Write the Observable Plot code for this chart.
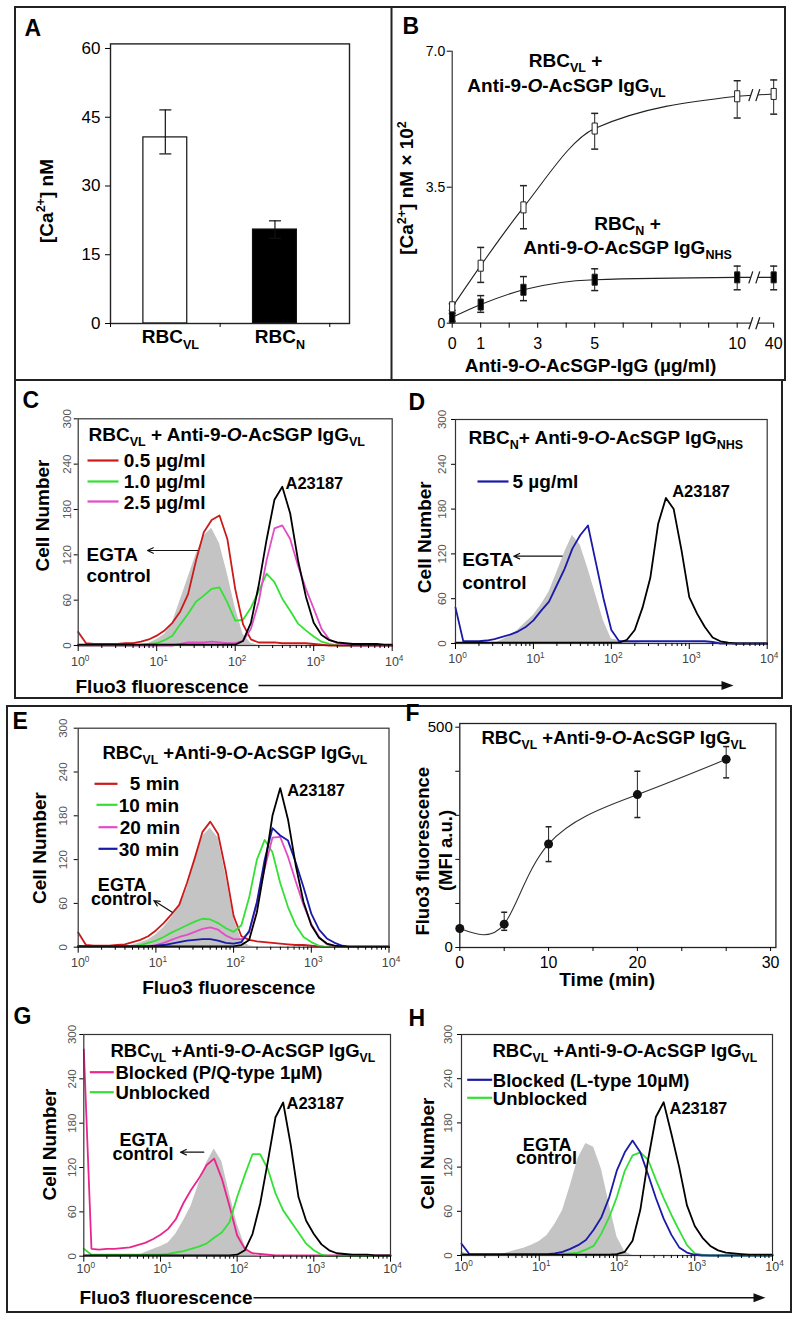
<!DOCTYPE html>
<html><head><meta charset="utf-8">
<script src="https://cdn.jsdelivr.net/npm/d3@7"></script>
<script src="https://cdn.jsdelivr.net/npm/@observablehq/plot@0.6"></script>
<style>
html,body{margin:0;padding:0;background:#fff;}
#fig{position:relative;width:799px;height:1320px;overflow:hidden;background:#fff;}
#fig svg{position:absolute;}
</style></head><body><div id="fig"></div>
<script>
// ---------------- DATA ----------------
// Panel A
const aGroups = ["RBC_{VL}", "RBC_{N}"];
const aMean = [40.6, 20.5];
const aLow = [37.0, 18.6];
const aHigh = [46.6, 22.4];
const aTicks = [0, 15, 30, 45, 60];

// Panel B
const bDose = [0, 1, 2.5, 5, 10, 40];
const bVL = [0.41, 1.48, 2.98, 5.01, 5.84, 5.90];
const bVLlo = [0.33, 1.05, 2.43, 4.48, 5.28, 5.38];
const bVLhi = [0.50, 1.95, 3.54, 5.40, 6.24, 6.26];
const bNHS = [0.15, 0.48, 0.86, 1.12, 1.18, 1.18];
const bNHSlo = [0.05, 0.28, 0.58, 0.84, 0.86, 0.86];
const bNHShi = [0.25, 0.71, 1.20, 1.40, 1.47, 1.47];
const bTickMarks = [0, 1, 2, 3, 4, 5, 6, 7, 8, 9, 10, 40];
const bTickLabels = [0, 1, 3, 5, 10, 40];
const bYTicks = [0, 3.5, 7];

// Panel F
const fTime = [0, 5, 10, 20, 30];
const fMFI = [43, 53, 235, 347, 427];
const fLow = [43, 39, 195, 295, 385];
const fHigh = [43, 80, 274, 400, 456];
const fYTicks = [0, 100, 200, 300, 400, 500];
const fXTickMarks = [0, 5, 10, 15, 20, 25, 30, 35];
const fTickPos = [0, 10, 20, 35];
const fTickText = ["0", "10", "20", "30"];

// Histograms: log10(Fluo3) bins
const logFluo = [0,0.1,0.2,0.3,0.4,0.5,0.6,0.7,0.8,0.9,1,1.1,1.2,1.3,1.4,1.5,1.6,1.7,1.8,1.9,2,2.1,2.2,2.3,2.4,2.5,2.6,2.7,2.8,2.9,3,3.1,3.2,3.3,3.4,3.5,3.6,3.7,3.8,3.9,4];
const cellTicks = [0, 60, 120, 180, 240, 300];

const cEgta  = [0,0,0,0,0,0,0,0,0,3,8,15,30,60,90,120,145,155,135,95,50,15,3,0,0,0,0,0,0,0,0,0,0,0,0,0,0,0,0,0,0];
const cRed   = [18,3,2,2,2,2,3,3,5,8,13,20,30,45,68,112,150,166,172,141,75,28,8,4,4,4,3,3,3,3,2,1,0,0,0,0,0,0,0,0,0];
const cGreen = [0,0,0,0,0,0,0,0,1,2,3,7,13,28,42,58,66,75,77,57,33,34,50,72,95,84,62,46,29,20,12,5,2,0,0,0,0,0,0,0,0];
const cMag   = [0,0,0,0,0,0,0,0,0,0,0,0,0,2,4,4,4,5,4,3,3,6,22,58,113,155,159,141,106,75,49,22,8,3,1,0,0,0,0,0,0];
const cBlack = [1,1,1,1,1,1,1,1,1,1,1,1,1,1,1,1,1,1,1,1,1,6,30,80,140,193,210,175,113,65,30,14,7,4,3,2,2,2,2,1,1];

const dEgta  = [0,0,0,0,0,0,5,10,18,28,38,52,69,95,122,145,132,100,65,30,6,4,4,2,0,0,0,0,0,0,0,0,0,0,0,0,0,0,0,0,0];
const dBlue  = [48,3,3,3,4,6,9,12,16,22,31,44,56,78,100,127,145,158,109,60,18,3,3,3,3,3,3,3,3,3,3,3,3,2,0,0,0,0,0,0,0];
const dBlack = [1,1,1,1,1,1,1,1,1,1,1,1,1,1,1,1,1,1,1,1,1,1,5,18,48,88,160,195,180,125,62,40,22,8,3,1,0,0,0,0,0];

const eEgta  = [0,0,0,0,0,0,0,3,6,10,17,27,40,55,80,118,152,163,150,98,40,10,2,0,0,0,0,0,0,0,0,0,0,0,0,0,0,0,0,0,0];
const eRed   = [20,3,2,2,2,3,4,7,10,15,23,33,45,58,88,122,158,172,155,104,43,15,10,8,7,6,5,4,3,3,2,1,0,0,0,0,0,0,0,0,0];
const eGreen = [2,1,1,1,1,1,1,1,3,6,9,14,20,25,30,35,39,38,33,26,21,30,68,120,147,130,88,55,30,14,7,2,0,0,0,0,0,0,0,0,0];
const eMag   = [1,1,1,1,1,1,1,1,1,1,3,6,10,14,17,21,25,27,24,16,11,11,20,60,108,150,151,124,90,58,32,14,4,1,0,0,0,0,0,0,0];
const eBlue  = [1,1,1,1,1,1,1,1,1,1,2,3,5,7,9,10,11,11,9,6,5,7,22,62,120,163,153,146,116,82,46,24,12,6,2,0,0,0,0,0,0];
const eBlack = [1,1,1,1,1,1,1,1,1,1,1,1,1,1,1,1,1,1,1,1,1,3,10,48,110,180,218,175,112,62,30,13,5,2,1,1,1,1,1,1,1];

const gEgta  = [0,0,0,0,0,0,0,0,5,9,13,18,30,48,68,98,126,145,128,85,44,14,2,0,0,0,0,0,0,0,0,0,0,0,0,0,0,0,0,0,0];
const gMag   = [280,10,9,10,10,11,12,15,18,23,29,37,50,72,90,105,123,132,105,68,28,10,4,3,2,1,1,1,1,1,1,1,1,1,1,1,1,1,1,1,1];
const gGreen = [10,2,2,2,2,2,2,2,2,2,2,3,5,7,10,13,17,25,32,46,80,110,138,138,118,85,62,47,32,17,8,2,0,0,0,0,0,0,0,0,0];
const gBlack = [1,1,1,1,1,1,1,1,1,1,1,1,1,1,1,1,1,1,1,1,2,8,30,71,128,188,208,150,80,48,30,16,8,4,3,2,2,2,1,1,1];

const hEgta  = [5,1,1,1,1,1,4,7,10,14,19,27,42,61,95,132,152,147,117,70,25,5,0,0,0,0,0,0,0,0,0,0,0,0,0,0,0,0,0,0,0];
const hBlue  = [16,2,2,2,2,2,2,2,2,2,2,2,3,5,9,14,21,35,52,79,116,140,156,140,110,78,50,28,11,4,1,0,0,0,0,0,0,0,0,0,0];
const hGreen = [3,1,1,1,1,1,1,1,1,1,1,1,1,2,3,4,8,13,30,52,80,115,136,140,130,103,78,55,34,14,3,1,0,0,0,0,0,0,0,0,0];
const hBlack = [1,1,1,1,1,1,1,1,1,1,1,1,1,1,1,1,1,1,1,1,2,5,20,62,130,188,208,165,120,68,40,24,13,7,4,3,2,1,1,1,1];

// ---------------- STYLE ----------------
const FONT = "'Liberation Sans', Arial, Helvetica, sans-serif";
const GREY = "#c4c4c4", RED = "#cc1a1a", GREEN = "#35e035", MAG = "#e24cc6", PINK = "#e8268e", BLUE = "#1a1aa8", BLACK = "#000";
const base = {style: {fontFamily: FONT, background: "transparent", overflow: "visible", color: "#000"}};
const fig = document.getElementById("fig");

function richify(svg) {
  const NS = "http://www.w3.org/2000/svg";
  const pat = /([_^*])\{([^}]*)\}/;
  for (const el of Array.from(svg.querySelectorAll("text, tspan"))) {
    if (el.childNodes.length !== 1 || el.firstChild.nodeType !== 3) continue;
    const s = el.textContent;
    if (!pat.test(s)) continue;
    const fs = parseFloat(getComputedStyle(el).fontSize) || 12;
    el.textContent = "";
    let shift = 0;
    for (const part of s.split(/([_^*]\{[^}]*\})/)) {
      if (!part) continue;
      const m = part.match(/^([_^*])\{([^}]*)\}$/);
      const t = document.createElementNS(NS, "tspan");
      let target = 0;
      if (m) {
        t.textContent = m[2];
        if (m[1] === "_") { target = 0.28 * fs; t.setAttribute("font-size", 0.66 * fs); }
        else if (m[1] === "^") { target = -0.4 * fs; t.setAttribute("font-size", 0.66 * fs); }
        else t.setAttribute("font-style", "italic");
      } else t.textContent = part;
      if (target !== shift) { t.setAttribute("dy", target - shift); shift = target; }
      el.appendChild(t);
    }
  }
}
function place(svg, left, top) {
  svg.style.left = left + "px"; svg.style.top = top + "px";
  fig.appendChild(svg); richify(svg);
}
const capSymbol = w => ({draw(ctx) { ctx.moveTo(-w / 2, 0); ctx.lineTo(w / 2, 0); }});
const barSymbol = {draw(ctx) { ctx.rect(-2.6, -5.5, 5.2, 11); }};
const headSymbol = {draw(ctx) { ctx.moveTo(0, 0); ctx.lineTo(-12, -4.5); ctx.lineTo(-12, 4.5); ctx.closePath(); }};
const gapSymbol = {draw(ctx) { ctx.moveTo(-5.5, 6); ctx.lineTo(-1.5, -6); ctx.lineTo(5.5, -6); ctx.lineTo(1.5, 6); ctx.closePath(); }};
const slashSymbol = {draw(ctx) { ctx.moveTo(-5.5, 6); ctx.lineTo(-1.5, -6); ctx.moveTo(1.5, 6); ctx.lineTo(5.5, -6); }};

// ---------------- PANEL A ----------------
const A_FILLS = ["#ffffff", "#000000"];
const aRows = aGroups.map((g, i) => ({g, k: i + 1, mean: aMean[i], lo: aLow[i], hi: aHigh[i]}));
place(Plot.plot({...base, width: 376, height: 373, marginLeft: 95, marginRight: 42, marginTop: 36.4, marginBottom: 57,
  x: {domain: [0.5, 2.68]}, y: {domain: [0, 61]}, color: {type: "identity"},
  marks: [
    Plot.rect(aRows, {x1: d => d.k - 0.2, x2: d => d.k + 0.2, y1: () => 0, y2: "mean", fill: (d, i) => A_FILLS[i], stroke: "#111", strokeWidth: 1.2}),
    Plot.ruleX(aRows, {x: "k", y1: "lo", y2: "hi", stroke: "#111", strokeWidth: 1.2}),
    Plot.dot(aRows, {x: "k", y: "hi", symbol: capSymbol(12), stroke: "#111", fill: "none", strokeWidth: 1.2}),
    Plot.dot(aRows, {x: "k", y: "lo", symbol: capSymbol(12), stroke: "#111", fill: "none", strokeWidth: 1.2}),
    Plot.frame({stroke: "#222", strokeWidth: 1.4}),
    Plot.axisY({ticks: aTicks, tickSize: 5, tickPadding: 5, fontSize: 17, label: null}),
    Plot.axisX({ticks: [0.5, 1.5, 2.5], tickSize: 4, tickFormat: () => "", label: null}),
    Plot.text(aRows, {x: "k", y: () => 0, text: "g", dy: 19.7, dx: 5, lineAnchor: "bottom", fontSize: 19, fontWeight: "bold"})
  ]}), 15, 7);

// ---------------- PANEL B ----------------
const bPos = v => v <= 10 ? v : 10 + (v - 10) * 1.28 / 30;
const bBreakPos = 10.6;
const bRowsVL = bDose.map((d, i) => ({dose: d, v: bVL[i], lo: bVLlo[i], hi: bVLhi[i]}));
const bRowsN = bDose.map((d, i) => ({dose: d, v: bNHS[i], lo: bNHSlo[i], hi: bNHShi[i]}));
const bx = d => bPos(d.dose);
const bSeries = [[bRowsVL, "#fff"], [bRowsN, "#000"]];
const bBreakY = [(bVL[4] + bVL[5]) / 2, (bNHS[4] + bNHS[5]) / 2, 0];
place(Plot.plot({...base, width: 394, height: 373, marginLeft: 60.7, marginRight: 8.4, marginTop: 43.7, marginBottom: 57.3,
  x: {domain: [0, 11.4]}, y: {domain: [0, 7]},
  marks: [
    Plot.ruleX([0], {y1: () => 0, y2: () => 7, stroke: "#333", strokeWidth: 1.2}),
    Plot.ruleY([0], {x1: () => 0, x2: () => bPos(40), stroke: "#333", strokeWidth: 1.2}),
    Plot.axisX({ticks: bTickMarks.map(bPos), tickSize: 5, tickFormat: () => "", label: null}),
    Plot.text(bTickLabels, {x: d => bPos(d), y: () => 0, text: d => String(d), dy: 25.6, lineAnchor: "bottom", fontSize: 16}),
    Plot.axisY({ticks: bYTicks, tickFormat: d => d === 0 ? "0" : d.toFixed(1), tickSize: 5, tickPadding: 2, fontSize: 14, label: null}),
    ...bSeries.flatMap(([rows, fill]) => [
      Plot.line(rows.filter(d => d.dose <= 10), {x: bx, y: "v", curve: "monotone-x", stroke: "#222", strokeWidth: 1.1}),
      Plot.line(rows.filter(d => d.dose >= 10), {x: bx, y: "v", stroke: "#222", strokeWidth: 1.1}),
      Plot.ruleX(rows, {x: bx, y1: "lo", y2: "hi", stroke: "#222", strokeWidth: 1}),
      Plot.dot(rows, {x: bx, y: "hi", symbol: capSymbol(7), stroke: "#222", fill: "none"}),
      Plot.dot(rows, {x: bx, y: "lo", symbol: capSymbol(7), stroke: "#222", fill: "none"}),
      Plot.dot(rows, {x: bx, y: "v", symbol: barSymbol, fill, stroke: "#222", strokeWidth: 1})
    ]),
    Plot.dot(bBreakY, {x: () => bBreakPos, y: d => d, symbol: gapSymbol, fill: "#fff", stroke: "none"}),
    Plot.dot(bBreakY, {x: () => bBreakPos, y: d => d, symbol: slashSymbol, fill: "none", stroke: "#222", strokeWidth: 1.3})
  ]}), 391, 7);

// ---------------- HISTOGRAMS ----------------
const majorTicks = [1, 10, 100, 1000, 10000];
const minorTicks = [1, 10, 100, 1000].flatMap(p => [2, 3, 4, 5, 6, 7, 8, 9].map(m => m * p));
const rowsOf = values => logFluo.map((L, i) => ({f: Math.pow(10, L), n: values[i]}));
function histogram(g) {
  return Plot.plot({...base, width: g.w, height: g.h, marginLeft: g.ml, marginRight: g.mr, marginTop: g.mt, marginBottom: g.mb,
    x: {type: "log", domain: [1, 10000]}, y: {domain: [0, 300]},
    marks: [
      Plot.areaY(rowsOf(g.egta), {x: "f", y: "n", fill: GREY}),
      ...g.lines.map(([vals, color]) => Plot.line(rowsOf(vals), {x: "f", y: "n", stroke: color, strokeWidth: 1.8})),
      Plot.frame({stroke: "#333", strokeWidth: 1.2}),
      Plot.axisY({ticks: cellTicks, tickSize: 4, tickFormat: () => "", label: null}),
      Plot.text(cellTicks, {x: () => 1, y: d => d, text: d => String(d), rotate: -90, dx: -g.ydx, fontSize: 11.5, fill: "#555"}),
      Plot.axisX({ticks: majorTicks, tickSize: 6, tickFormat: () => "", label: null}),
      Plot.axisX({ticks: minorTicks, tickSize: 3, tickFormat: () => "", label: null}),
      Plot.text(majorTicks, {x: d => d, y: () => 0, text: d => `10^{${Math.round(Math.log10(d))}}`, dy: g.xdy, dx: 2, fontSize: 12.5, fill: "#444"})
    ]});
}
place(histogram({w: 380, h: 318, ml: 62.7, mr: 3.3, mt: 38.3, mb: 53, ydx: 11, xdy: 16.7, egta: cEgta,
  lines: [[cGreen, GREEN], [cRed, RED], [cMag, MAG], [cBlack, BLACK]]}), 15, 380);
place(histogram({w: 387, h: 318, ml: 60, mr: 15.3, mt: 39, mb: 55, ydx: 13.3, xdy: 15.3, egta: dEgta,
  lines: [[dBlue, BLUE], [dBlack, BLACK]]}), 395, 380);
place(histogram({w: 388, h: 304, ml: 70.7, mr: 6.5, mt: 21.7, mb: 63.3, ydx: 14.4, xdy: 15.6, egta: eEgta,
  lines: [[eRed, RED], [eGreen, GREEN], [eMag, MAG], [eBlue, BLUE], [eBlack, BLACK]]}), 7, 706);
place(histogram({w: 388, h: 302, ml: 76.3, mr: 5, mt: 24, mb: 56.3, ydx: 11.7, xdy: 12.5, egta: gEgta,
  lines: [[gMag, PINK], [gGreen, GREEN], [gBlack, BLACK]]}), 7, 1010);
place(histogram({w: 395, h: 302, ml: 66, mr: 18, mt: 24, mb: 57, ydx: 12.7, xdy: 11.7, egta: hEgta,
  lines: [[hGreen, GREEN], [hBlue, BLUE], [hBlack, BLACK]]}), 395, 1010);

// ---------------- PANEL F ----------------
const fRows = fTime.map((t, i) => ({t, v: fMFI[i], lo: fLow[i], hi: fHigh[i]}));
place(Plot.plot({...base, width: 395, height: 304, marginLeft: 64.3, marginRight: 14.6, marginTop: 17, marginBottom: 63,
  x: {domain: [0, 35.6]}, y: {domain: [0, 508.4]},
  marks: [
    Plot.frame({stroke: "#222", strokeWidth: 1.3}),
    Plot.axisY({ticks: fYTicks, tickSize: 4, tickPadding: 3, tickFormat: d => (d === 0 || d === 500) ? String(d) : "", fontSize: 15, label: null}),
    Plot.axisX({ticks: fXTickMarks, tickSize: 4, tickFormat: () => "", label: null}),
    Plot.text(fTickPos, {x: d => d, y: () => 0, text: (d, i) => fTickText[i], dy: 20, lineAnchor: "bottom", fontSize: 16}),
    Plot.line(fRows, {x: "t", y: "v", curve: "natural", stroke: "#333", strokeWidth: 1.1}),
    Plot.ruleX(fRows, {x: "t", y1: "lo", y2: "hi", stroke: "#222", strokeWidth: 1}),
    Plot.dot(fRows, {x: "t", y: "hi", symbol: capSymbol(6), stroke: "#222", fill: "none"}),
    Plot.dot(fRows, {x: "t", y: "lo", symbol: capSymbol(6), stroke: "#222", fill: "none"}),
    Plot.dot(fRows, {x: "t", y: "v", r: 4.5, fill: "#111"})
  ]}), 395, 706);

// ---------------- OVERLAY: frames, labels, legends ----------------
const TITLE_VL = "RBC_{VL} +Anti-9-*{O}-AcSGP IgG_{VL}";
const OV_TEXT = [
  // panel letters
  {t: "A", x: 24, y: 35, s: 23, a: "start"}, {t: "B", x: 402, y: 33, s: 23, a: "start"},
  {t: "C", x: 22, y: 407, s: 23, a: "start"}, {t: "D", x: 408, y: 409, s: 23, a: "start"},
  {t: "E", x: 12, y: 728, s: 23, a: "start"}, {t: "F", x: 405, y: 720, s: 23, a: "start"},
  {t: "G", x: 13, y: 1023, s: 23, a: "start"}, {t: "H", x: 408, y: 1025, s: 23, a: "start"},
  // axis titles (rotated)
  {t: "[Ca^{2+}] nM", x: 52, y: 200.5, s: 19, a: "middle", r: -90},
  {t: "[Ca^{2+}] nM × 10^{2}", x: 412.7, y: 187.5, s: 19, a: "middle", r: -90},
  {t: "Cell Number", x: 48, y: 515, s: 19, a: "middle", r: -90},
  {t: "Cell Number", x: 430, y: 536.7, s: 19, a: "middle", r: -90},
  {t: "Cell Number", x: 45, y: 847.5, s: 19, a: "middle", r: -90},
  {t: "Cell Number", x: 55, y: 1144, s: 19, a: "middle", r: -90},
  {t: "Cell Number", x: 433, y: 1153, s: 19, a: "middle", r: -90},
  {t: "Fluo3 fluorescence", x: 428, y: 850.8, s: 18.5, a: "middle", r: -90},
  {t: "(MFI a.u.)", x: 451.7, y: 850, s: 18.5, a: "middle", r: -90},
  // B annotations
  {t: "RBC_{VL} +", x: 565, y: 66.5, s: 19, a: "middle"},
  {t: "Anti-9-*{O}-AcSGP IgG_{VL}", x: 566, y: 91, s: 19, a: "middle"},
  {t: "RBC_{N} +", x: 627, y: 229.5, s: 19, a: "middle"},
  {t: "Anti-9-*{O}-AcSGP IgG_{NHS}", x: 627, y: 253, s: 19, a: "middle"},
  {t: "Anti-9-*{O}-AcSGP-IgG (µg/ml)", x: 590, y: 371, s: 19, a: "middle"},
  // titles
  {t: "RBC_{VL} + Anti-9-*{O}-AcSGP IgG_{VL}", x: 88, y: 440, s: 19, a: "start"},
  {t: "RBC_{N}+ Anti-9-*{O}-AcSGP IgG_{NHS}", x: 468, y: 443, s: 19, a: "start"},
  {t: TITLE_VL, x: 102, y: 758.3, s: 18.5, a: "start"},
  {t: TITLE_VL, x: 481, y: 743.3, s: 18.5, a: "start"},
  {t: TITLE_VL, x: 110, y: 1056.7, s: 18.5, a: "start"},
  {t: TITLE_VL, x: 492, y: 1056.7, s: 18.5, a: "start"},
  // legends
  {t: "0.5 µg/ml", x: 123.3, y: 466.7, s: 19, a: "start"},
  {t: "1.0 µg/ml", x: 123.3, y: 487.7, s: 19, a: "start"},
  {t: "2.5 µg/ml", x: 123.3, y: 508, s: 19, a: "start"},
  {t: "5 µg/ml", x: 512, y: 487.7, s: 19, a: "start"},
  {t: "5 min", x: 129.3, y: 789, s: 19, a: "start"},
  {t: "10 min", x: 118.3, y: 811, s: 19, a: "start"},
  {t: "20 min", x: 119.3, y: 833.3, s: 19, a: "start"},
  {t: "30 min", x: 118.3, y: 855, s: 19, a: "start"},
  {t: "Blocked (P/Q-type 1µM)", x: 115, y: 1078.3, s: 18.5, a: "start"},
  {t: "Unblocked", x: 115, y: 1098.3, s: 18.5, a: "start"},
  {t: "Blocked (L-type 10µM)", x: 492.3, y: 1086, s: 18.5, a: "start"},
  {t: "Unblocked", x: 492.3, y: 1104.3, s: 18.5, a: "start"},
  // A23187
  {t: "A23187", x: 285, y: 488.3, s: 16.5, a: "start"},
  {t: "A23187", x: 671.7, y: 496.7, s: 16.5, a: "start"},
  {t: "A23187", x: 286.7, y: 795, s: 16.5, a: "start"},
  {t: "A23187", x: 286, y: 1108.3, s: 16.5, a: "start"},
  {t: "A23187", x: 669, y: 1113.3, s: 16.5, a: "start"},
  // EGTA control
  {t: "EGTA", x: 86, y: 560, s: 19, a: "start"}, {t: "control", x: 86, y: 581, s: 19, a: "start"},
  {t: "EGTA", x: 461.7, y: 565, s: 19, a: "start"}, {t: "control", x: 461.7, y: 588.3, s: 19, a: "start"},
  {t: "EGTA", x: 121.7, y: 890, s: 18, a: "middle"}, {t: "control", x: 121, y: 904, s: 18, a: "middle"},
  {t: "EGTA", x: 143.3, y: 1145, s: 18, a: "middle"}, {t: "control", x: 142.5, y: 1159, s: 18, a: "middle"},
  {t: "EGTA", x: 546.7, y: 1150, s: 18, a: "middle"}, {t: "control", x: 546, y: 1163, s: 18, a: "middle"},
  // x-axis titles
  {t: "Fluo3 fluorescence", x: 75, y: 692, s: 19, a: "start"},
  {t: "Fluo3 fluorescence", x: 228.3, y: 993, s: 19, a: "middle"},
  {t: "Fluo3 fluorescence", x: 79, y: 1303.3, s: 19, a: "start"},
  {t: "Time (min)", x: 606.7, y: 985, s: 19, a: "middle"}
];
const OV_BOXES = [
  {x1: 15, y1: 7, x2: 785, y2: 380},
  {x1: 15, y1: 380, x2: 782, y2: 698},
  {x1: 7, y1: 706, x2: 791, y2: 1312}
];
const OV_LEGEND = [
  {x1: 87, x2: 118, y: 460, c: RED}, {x1: 87, x2: 118, y: 481, c: GREEN}, {x1: 87, x2: 118, y: 501, c: MAG},
  {x1: 477, x2: 508, y: 481, c: BLUE},
  {x1: 94, x2: 117, y: 783.3, c: RED}, {x1: 96, x2: 117, y: 804.3, c: GREEN}, {x1: 98, x2: 117, y: 826.7, c: MAG}, {x1: 98, x2: 117, y: 848.3, c: BLUE},
  {x1: 89.3, x2: 113.3, y: 1071.7, c: PINK}, {x1: 89.3, x2: 113.3, y: 1091.7, c: GREEN},
  {x1: 466.7, x2: 491.7, y: 1079.3, c: BLUE}, {x1: 466.7, x2: 491.7, y: 1097.3, c: GREEN}
];
const OV_ARROWS = [
  {x1: 197, y1: 550, x2: 147, y2: 550},
  {x1: 561.7, y1: 555.7, x2: 513.3, y2: 555.7},
  {x1: 171.7, y1: 911.7, x2: 153.3, y2: 900},
  {x1: 203.3, y1: 1151.7, x2: 180, y2: 1151.7}
];
const OV_LONG = [
  {x1: 258, x2: 722, y: 685, tip: 733},
  {x1: 253, x2: 754, y: 1297.3, tip: 765}
];
const txt = (a, extra = {}) => Plot.text(OV_TEXT.filter(d => d.a === a), {x: "x", y: "y", text: "t", fontSize: d => d.s, rotate: d => d.r || 0, textAnchor: a, lineAnchor: "bottom", fontWeight: "bold", fill: "#000", ...extra});
place(Plot.plot({...base, width: 799, height: 1320, margin: 0,
  x: {domain: [0, 799], range: [0, 799], axis: null},
  y: {domain: [0, 1320], range: [0, 1320], axis: null},
  color: {type: "identity"},
  marks: [
    Plot.rect(OV_BOXES, {x1: "x1", x2: "x2", y1: "y1", y2: "y2", fill: "none", stroke: "#222", strokeWidth: 2}),
    Plot.ruleX([391], {y1: () => 7, y2: () => 380, stroke: "#222", strokeWidth: 2}),
    Plot.link(OV_LEGEND, {x1: "x1", x2: "x2", y1: "y", y2: "y", stroke: d => d.c, strokeWidth: 2.2}),
    Plot.arrow(OV_ARROWS, {x1: "x1", y1: "y1", x2: "x2", y2: "y2", stroke: "#111", strokeWidth: 1.2, headLength: 8, headAngle: 50}),
    Plot.link(OV_LONG, {x1: "x1", x2: "x2", y1: "y", y2: "y", stroke: "#111", strokeWidth: 1.6}),
    Plot.dot(OV_LONG, {x: "tip", y: "y", symbol: headSymbol, fill: "#111", stroke: "none"}),
    txt("start"), txt("middle")
  ]}), 0, 0);
</script></body></html>
